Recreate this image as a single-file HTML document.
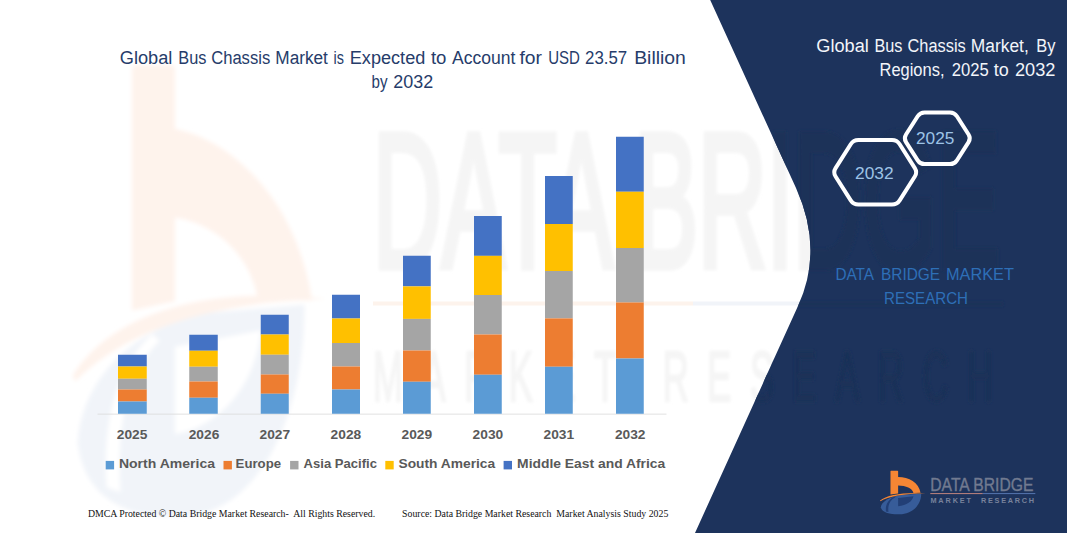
<!DOCTYPE html>
<html><head><meta charset="utf-8"><title>Global Bus Chassis Market</title>
<style>
html,body{margin:0;padding:0;background:#fff;}
body{width:1067px;height:533px;overflow:hidden;font-family:"Liberation Sans",sans-serif;}
svg{display:block;}
text{font-family:"Liberation Sans",sans-serif;}
.serif text{font-family:"Liberation Serif",serif;}
</style></head>
<body>
<svg width="1067" height="533" viewBox="0 0 1067 533">
<rect width="1067" height="533" fill="#ffffff"/>

<defs><filter id="bl" x="-10%" y="-10%" width="120%" height="120%"><feGaussianBlur stdDeviation="2.2"/></filter>
<filter id="bl2" x="-5%" y="-20%" width="110%" height="140%"><feGaussianBlur stdDeviation="1.6"/></filter></defs>
<!-- watermark logo -->
<g filter="url(#bl)"><g transform="translate(16.98,-45.58) scale(0.632,1.164)">
<path d="M96,420 C100,372 170,322 300,308 L455,301 C455,400 380,480 262,483 C180,485 108,470 96,420 Z" fill="#F1F4F9"/>
<path d="M250,337 L386,323 C378,368 325,405 250,412 Z" fill="#FFFFFF"/>
<path d="M142,458 C134,400 160,352 214,326 L226,332 C178,356 156,402 164,462 Z" fill="#FFFFFF"/>
<path d="M182,100 Q182,95 187,95 L245,95 Q250,95 250,100 L250,150 C330,158 440,205 467,297 L381,297 C372,262 320,232 250,226 L250,298 L182,306 Z" fill="#FEF3EC"/>
<path d="M88,362 C150,308 300,284 492,296 C300,298 165,326 92,367 Z" fill="#FEF3EC"/>
</g></g>

<!-- watermark text -->
<g fill="#F5F5F5" stroke="#F5F5F5" filter="url(#bl2)">
<text transform="translate(373,267) scale(1,1.913)" font-size="100" stroke-width="4" textLength="627" lengthAdjust="spacingAndGlyphs">DATA BRIDGE</text>
<text transform="translate(373,400.8) scale(1,1.95)" font-size="36" stroke-width="1.2" textLength="620" lengthAdjust="spacing">MARKET RESEARCH</text>
</g>
<rect x="373" y="301.5" width="320" height="4" fill="#FDF3EC"/>
<rect x="693" y="301.5" width="120" height="4" fill="#F1F4F9"/>

<!-- navy panel -->
<path d="M710.2,0 L796,188 Q824,249.3 798,306 L695,533 L1067,533 L1067,0 Z" fill="#1D335C"/>

<!-- watermark on navy -->
<clipPath id="navyclip"><path d="M710.2,0 L796,188 Q824,249.3 798,306 L695,533 L1067,533 L1067,0 Z"/></clipPath>
<g clip-path="url(#navyclip)"><g fill="#1A3058" stroke="#1A3058" filter="url(#bl2)">
<text transform="translate(373,267) scale(1,1.913)" font-size="100" stroke-width="4" textLength="627" lengthAdjust="spacingAndGlyphs">DATA BRIDGE</text>
<text transform="translate(373,400.8) scale(1,1.95)" font-size="36" stroke-width="1.2" textLength="620" lengthAdjust="spacing">MARKET RESEARCH</text>
<rect x="693" y="302" width="310" height="4" fill="#1B3158" stroke="none"/>
</g></g>

<!-- axis -->
<rect x="97.5" y="413.7" width="569" height="0.8" fill="#D9D9D9"/>

<!-- bars -->
<g>
<rect x="118.0" y="354.75" width="28.75" height="11.75" fill="#4472C4"/>
<rect x="118.0" y="366.5" width="28.75" height="12.25" fill="#FFC000"/>
<rect x="118.0" y="378.75" width="28.75" height="10.75" fill="#A5A5A5"/>
<rect x="118.0" y="389.5" width="28.75" height="12.00" fill="#ED7D31"/>
<rect x="118.0" y="401.5" width="28.75" height="12.25" fill="#5B9BD5"/>
<rect x="189.25" y="334.75" width="28.50" height="16.00" fill="#4472C4"/>
<rect x="189.25" y="350.75" width="28.50" height="16.00" fill="#FFC000"/>
<rect x="189.25" y="366.75" width="28.50" height="14.75" fill="#A5A5A5"/>
<rect x="189.25" y="381.5" width="28.50" height="16.25" fill="#ED7D31"/>
<rect x="189.25" y="397.75" width="28.50" height="16.00" fill="#5B9BD5"/>
<rect x="260.75" y="314.75" width="28.00" height="19.75" fill="#4472C4"/>
<rect x="260.75" y="334.5" width="28.00" height="20.25" fill="#FFC000"/>
<rect x="260.75" y="354.75" width="28.00" height="19.75" fill="#A5A5A5"/>
<rect x="260.75" y="374.5" width="28.00" height="19.25" fill="#ED7D31"/>
<rect x="260.75" y="393.75" width="28.00" height="20.00" fill="#5B9BD5"/>
<rect x="332.0" y="294.75" width="28.00" height="23.75" fill="#4472C4"/>
<rect x="332.0" y="318.5" width="28.00" height="24.50" fill="#FFC000"/>
<rect x="332.0" y="343.0" width="28.00" height="23.50" fill="#A5A5A5"/>
<rect x="332.0" y="366.5" width="28.00" height="23.00" fill="#ED7D31"/>
<rect x="332.0" y="389.5" width="28.00" height="24.25" fill="#5B9BD5"/>
<rect x="403.0" y="255.75" width="27.75" height="30.65" fill="#4472C4"/>
<rect x="403.0" y="286.4" width="27.75" height="32.50" fill="#FFC000"/>
<rect x="403.0" y="318.9" width="27.75" height="31.60" fill="#A5A5A5"/>
<rect x="403.0" y="350.5" width="27.75" height="31.25" fill="#ED7D31"/>
<rect x="403.0" y="381.75" width="27.75" height="32.00" fill="#5B9BD5"/>
<rect x="474.0" y="216.0" width="27.75" height="39.85" fill="#4472C4"/>
<rect x="474.0" y="255.85" width="27.75" height="39.15" fill="#FFC000"/>
<rect x="474.0" y="295.0" width="27.75" height="39.50" fill="#A5A5A5"/>
<rect x="474.0" y="334.5" width="27.75" height="40.25" fill="#ED7D31"/>
<rect x="474.0" y="374.75" width="27.75" height="39.00" fill="#5B9BD5"/>
<rect x="545.0" y="176.0" width="27.75" height="48.00" fill="#4472C4"/>
<rect x="545.0" y="224.0" width="27.75" height="47.00" fill="#FFC000"/>
<rect x="545.0" y="271.0" width="27.75" height="47.40" fill="#A5A5A5"/>
<rect x="545.0" y="318.4" width="27.75" height="48.35" fill="#ED7D31"/>
<rect x="545.0" y="366.75" width="27.75" height="47.00" fill="#5B9BD5"/>
<rect x="616.0" y="136.75" width="27.75" height="55.00" fill="#4472C4"/>
<rect x="616.0" y="191.75" width="27.75" height="56.25" fill="#FFC000"/>
<rect x="616.0" y="248.0" width="27.75" height="54.50" fill="#A5A5A5"/>
<rect x="616.0" y="302.5" width="27.75" height="56.00" fill="#ED7D31"/>
<rect x="616.0" y="358.5" width="27.75" height="55.25" fill="#5B9BD5"/>
</g>

<!-- title -->
<g fill="#263C6A" font-size="18">
<text x="119.8" y="63.9" textLength="52.6" lengthAdjust="spacingAndGlyphs">Global</text>
<text x="178.3" y="63.9" textLength="28.1" lengthAdjust="spacingAndGlyphs">Bus</text>
<text x="211.2" y="63.9" textLength="59.0" lengthAdjust="spacingAndGlyphs">Chassis</text>
<text x="275.3" y="63.9" textLength="52.6" lengthAdjust="spacingAndGlyphs">Market</text>
<text x="333.5" y="63.9" textLength="10.4" lengthAdjust="spacingAndGlyphs">is</text>
<text x="349.8" y="63.9" textLength="75.5" lengthAdjust="spacingAndGlyphs">Expected</text>
<text x="430.9" y="63.9" textLength="15.5" lengthAdjust="spacingAndGlyphs">to</text>
<text x="452.0" y="63.9" textLength="63.3" lengthAdjust="spacingAndGlyphs">Account</text>
<text x="519.5" y="63.9" textLength="22.5" lengthAdjust="spacingAndGlyphs">for</text>
<text x="548.2" y="63.9" textLength="31.7" lengthAdjust="spacingAndGlyphs">USD</text>
<text x="585.0" y="63.9" textLength="42.2" lengthAdjust="spacingAndGlyphs">23.57</text>
<text x="634.2" y="63.9" textLength="51.7" lengthAdjust="spacingAndGlyphs">Billion</text>
<text x="371.5" y="87.8" textLength="16.0" lengthAdjust="spacingAndGlyphs">by</text>
<text x="393.3" y="87.8" textLength="39.9" lengthAdjust="spacingAndGlyphs">2032</text>
</g>

<!-- year labels -->
<g fill="#595959" font-size="13.3" font-weight="bold">
<text x="116.8" y="438.8" textLength="30.6" lengthAdjust="spacingAndGlyphs">2025</text>
<text x="188.7" y="438.8" textLength="30.6" lengthAdjust="spacingAndGlyphs">2026</text>
<text x="259.5" y="438.8" textLength="30.6" lengthAdjust="spacingAndGlyphs">2027</text>
<text x="330.6" y="438.8" textLength="30.6" lengthAdjust="spacingAndGlyphs">2028</text>
<text x="401.5" y="438.8" textLength="30.6" lengthAdjust="spacingAndGlyphs">2029</text>
<text x="472.6" y="438.8" textLength="30.6" lengthAdjust="spacingAndGlyphs">2030</text>
<text x="543.5" y="438.8" textLength="30.6" lengthAdjust="spacingAndGlyphs">2031</text>
<text x="614.9" y="438.8" textLength="30.6" lengthAdjust="spacingAndGlyphs">2032</text>
</g>

<!-- legend -->
<g fill="#595959" font-size="13.3" font-weight="bold">
<rect x="105.7" y="460.9" width="8.4" height="8.5" fill="#5B9BD5"/>
<text x="118.9" y="468.4" textLength="96.1" lengthAdjust="spacingAndGlyphs">North America</text>
<rect x="223.5" y="460.9" width="8.4" height="8.5" fill="#ED7D31"/>
<text x="235.6" y="468.4" textLength="45.5" lengthAdjust="spacingAndGlyphs">Europe</text>
<rect x="290.1" y="460.9" width="8.4" height="8.5" fill="#A5A5A5"/>
<text x="303.6" y="468.4" textLength="73.4" lengthAdjust="spacingAndGlyphs">Asia Pacific</text>
<rect x="385.3" y="460.9" width="8.4" height="8.5" fill="#FFC000"/>
<text x="398.5" y="468.4" textLength="96.7" lengthAdjust="spacingAndGlyphs">South America</text>
<rect x="503.6" y="460.9" width="8.4" height="8.5" fill="#4472C4"/>
<text x="517.1" y="468.4" textLength="148.2" lengthAdjust="spacingAndGlyphs">Middle East and Africa</text>
</g>

<!-- footer -->
<g fill="#111111" font-size="9.6" class="serif">
<text x="87.9" y="517.4" textLength="287.3" lengthAdjust="spacingAndGlyphs" xml:space="preserve">DMCA Protected © Data Bridge Market Research-  All Rights Reserved.</text>
<text x="402.1" y="517.4" textLength="266.2" lengthAdjust="spacingAndGlyphs" xml:space="preserve">Source: Data Bridge Market Research  Market Analysis Study 2025</text>
</g>

<!-- right title -->
<g fill="#F2F5FA" font-size="17.6">
<text x="816.3" y="52" textLength="52.5" lengthAdjust="spacingAndGlyphs">Global</text>
<text x="874.5" y="52" textLength="28.0" lengthAdjust="spacingAndGlyphs">Bus</text>
<text x="907.5" y="52" textLength="58.3" lengthAdjust="spacingAndGlyphs">Chassis</text>
<text x="970.8" y="52" textLength="58.0" lengthAdjust="spacingAndGlyphs">Market,</text>
<text x="1036.3" y="52" textLength="19.2" lengthAdjust="spacingAndGlyphs">By</text>
<text x="879.5" y="76.25" textLength="65.0" lengthAdjust="spacingAndGlyphs">Regions,</text>
<text x="951.8" y="76.25" textLength="37.0" lengthAdjust="spacingAndGlyphs">2025</text>
<text x="993.8" y="76.25" textLength="15.0" lengthAdjust="spacingAndGlyphs">to</text>
<text x="1015.0" y="76.25" textLength="40.5" lengthAdjust="spacingAndGlyphs">2032</text>
</g>

<!-- hexagons -->
<g fill="none" stroke="#FFFFFF" stroke-width="4" stroke-linejoin="round">
<path d="M835.58,176.52 Q832.90,172.30 835.58,168.08 L850.72,144.22 Q853.40,140.00 858.40,140.00 L892.00,140.00 Q897.00,140.00 899.68,144.22 L914.82,168.08 Q917.50,172.30 914.82,176.52 L899.68,200.38 Q897.00,204.60 892.00,204.60 L858.40,204.60 Q853.40,204.60 850.72,200.38 Z"/>
<path d="M906.02,142.09 Q903.60,138.30 906.02,134.51 L917.68,116.29 Q920.10,112.50 924.60,112.50 L950.00,112.50 Q954.50,112.50 956.92,116.29 L968.58,134.51 Q971.00,138.30 968.58,142.09 L956.92,160.31 Q954.50,164.10 950.00,164.10 L924.60,164.10 Q920.10,164.10 917.68,160.31 Z"/>
</g>
<g fill="#9DC3E6" font-size="17.2">
<text x="855" y="178.6" textLength="38.6" lengthAdjust="spacingAndGlyphs">2032</text>
<text x="916" y="144.3" textLength="38.4" lengthAdjust="spacingAndGlyphs">2025</text>
</g>

<!-- center label -->
<g fill="#2E6FB7" font-size="17.2">
<text x="835.4" y="279.6" textLength="38.7" lengthAdjust="spacingAndGlyphs">DATA</text>
<text x="881.0" y="279.6" textLength="59.1" lengthAdjust="spacingAndGlyphs">BRIDGE</text>
<text x="946.0" y="279.6" textLength="67.9" lengthAdjust="spacingAndGlyphs">MARKET</text>
<text x="884" y="303.6" textLength="84" lengthAdjust="spacingAndGlyphs">RESEARCH</text>
</g>

<!-- logo -->
<g transform="translate(870,460) scale(0.112518)">
<path d="M96,420 C100,372 170,322 300,308 L455,301 C455,400 380,480 262,483 C180,485 108,470 96,420 Z" fill="#375C99"/>
<path d="M250,337 L386,323 C378,368 325,405 250,412 Z" fill="#223F76"/>
<path d="M142,458 C134,400 160,352 214,326 L226,332 C178,356 156,402 164,462 Z" fill="#223F76"/>
<path d="M182,100 Q182,95 187,95 L245,95 Q250,95 250,100 L250,150 C345,150 435,200 449,291 L386,293 C376,250 320,228 250,226 L250,298 L182,306 Z" fill="#F58634"/>
<path d="M88,362 C150,308 300,284 492,296 C300,298 165,326 92,367 Z" fill="#F58634"/>
</g>
<text x="930.3" y="490.6" font-size="17.6" fill="#717A90" stroke="#717A90" stroke-width="0.35" textLength="103.1" lengthAdjust="spacingAndGlyphs">DATA BRIDGE</text>
<rect x="930.3" y="493.0" width="52.5" height="1.1" fill="#B07C7A"/>
<rect x="982.8" y="493.0" width="52.5" height="1.1" fill="#4F6FA8"/>
<text x="930.4" y="502.9" font-size="7.3" font-weight="bold" fill="#78829B" textLength="40.6" lengthAdjust="spacing">MARKET</text>
<text x="980.9" y="502.9" font-size="7.3" font-weight="bold" fill="#78829B" textLength="53.2" lengthAdjust="spacing">RESEARCH</text>

</svg>
</body></html>
